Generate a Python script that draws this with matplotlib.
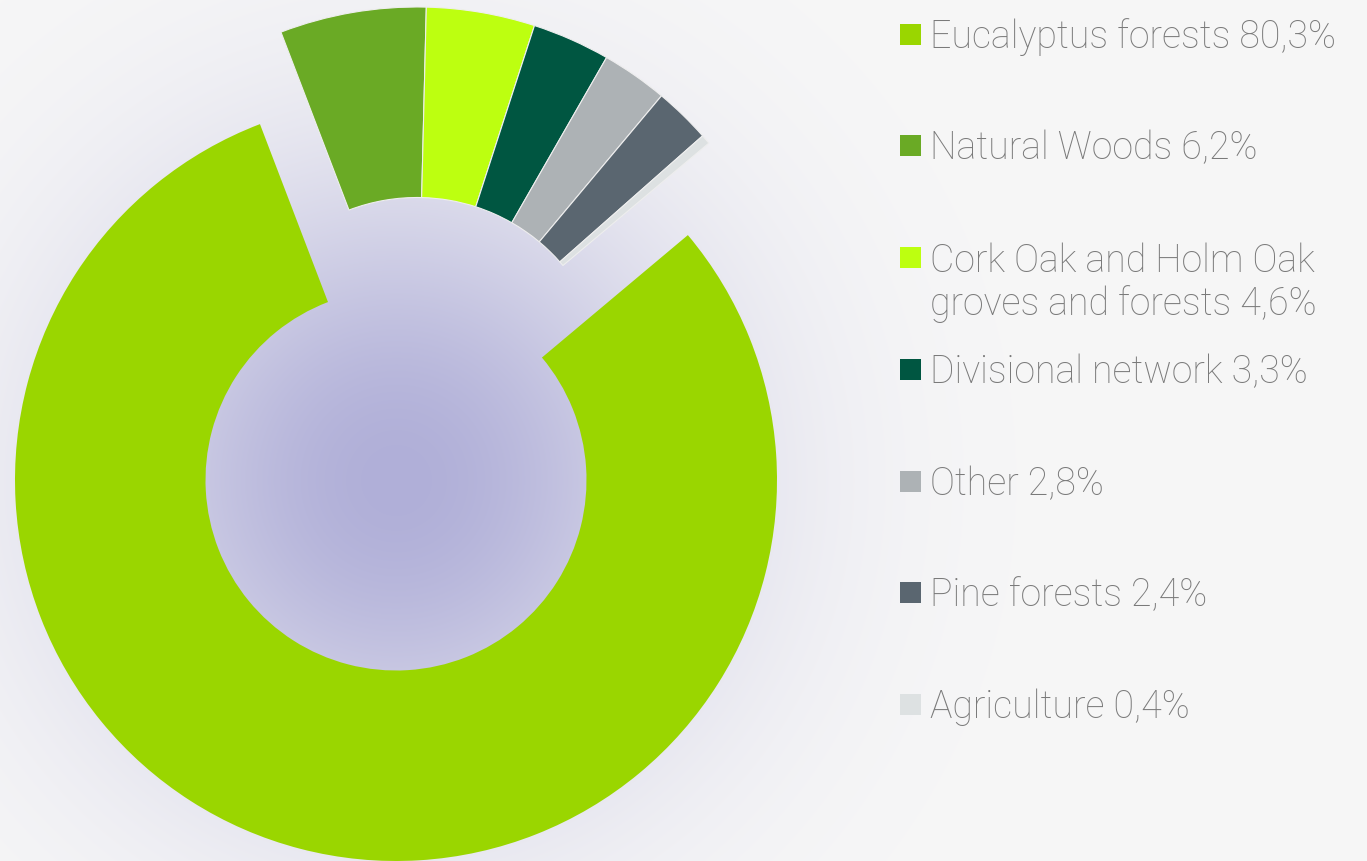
import numpy as np
import matplotlib
matplotlib.use("Agg")
import matplotlib.pyplot as plt
from matplotlib.colors import to_rgb

labels = ["Eucalyptus forests 80,3%", "Natural Woods 6,2%",
          "Cork Oak and Holm Oak\ngroves and forests 4,6%",
          "Divisional network 3,3%", "Other 2,8%", "Pine forests 2,4%",
          "Agriculture 0,4%"]
values = [80.3, 6.2, 4.6, 3.3, 2.8, 2.4, 0.4]
colors = ["#9ad600", "#6aaa25", "#bdff10", "#005641", "#adb2b5", "#5a6670", "#dde1e2"]

W, H = 1367, 861
fig = plt.figure(figsize=(W / 100, H / 100), dpi=100)
fig.patch.set_facecolor("#f7f7f7")

# background glow behind the donut
cx, cy = 396, 381
yy, xx = np.mgrid[0:H, 0:W]
r = np.hypot(xx - cx, (H - yy) - cy)
f = np.exp(-(r / 300.0) ** 2)[..., None]
bg = np.array(to_rgb("#f7f7f7"))
glow = np.array([176, 175, 216]) / 255
img = bg * (1 - f) + glow * f

ax = fig.add_axes([0, 0, 1, 1])
ax.imshow(img, extent=(0, W, 0, H), origin="upper", zorder=0)

R = 381
start = 40
# main slice
w1, _ = ax.pie(values, colors=colors, startangle=start, counterclock=False,
               center=(cx, cy), radius=R, frame=True,
               wedgeprops=dict(width=R / 2, linewidth=0))
for w in w1[1:]:
    w.set_visible(False)
# the rest, pulled out together
w2, _ = ax.pie(values, colors=colors, startangle=start, counterclock=False,
               center=(cx + 21, cy + 92), radius=R, frame=True,
               wedgeprops=dict(width=R / 2, linewidth=0.8, edgecolor="#eeeeee"))
w2[0].set_visible(False)

ax.set_xlim(0, W)
ax.set_ylim(0, H)
ax.set_aspect("equal")
ax.axis("off")

# legend
ys = [34.5, 145.5, 257.5, 369.5, 481.5, 592.5, 704.5]
for lab, c, y in zip(labels, colors, ys):
    ax.add_patch(plt.Rectangle((900, H - y - 10.5), 21, 21, color=c, lw=0))
    nl = lab.count("\n")
    ax.text(930, H - y - 13.5 - 44 * nl, lab, fontsize=27, color="#7a7a7a",
            family="Roboto", fontweight="light", va="baseline", ha="left",
            linespacing=1.17)

fig.savefig("out.png", dpi=100, facecolor=fig.get_facecolor())
